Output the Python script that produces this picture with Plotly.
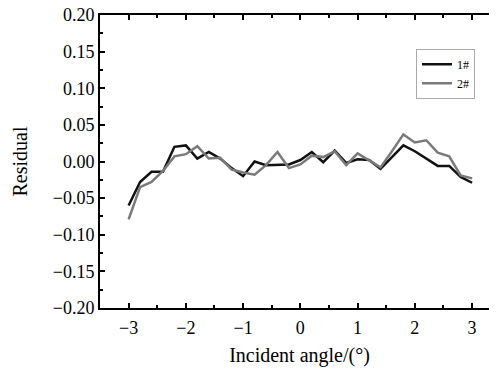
import plotly.graph_objects as go

angle = [-3.0, -2.8, -2.6, -2.4, -2.2, -2.0, -1.8, -1.6, -1.4, -1.2, -1.0,
         -0.8, -0.6, -0.4, -0.2, 0.0, 0.2, 0.4, 0.6, 0.8, 1.0,
         1.2, 1.4, 1.6, 1.8, 2.0, 2.2, 2.4, 2.6, 2.8, 3.0]

residual_1 = [-0.060, -0.028, -0.014, -0.014, 0.020, 0.022, 0.004, 0.013, 0.004, -0.009, -0.020,
              0.000, -0.005, -0.004, -0.004, 0.002, 0.013, -0.001, 0.015, -0.002, 0.003,
              0.002, -0.010, 0.006, 0.022, 0.014, 0.004, -0.006, -0.006, -0.021, -0.029]

residual_2 = [-0.079, -0.035, -0.028, -0.013, 0.007, 0.010, 0.021, 0.004, 0.005, -0.011, -0.015,
              -0.018, -0.005, 0.013, -0.009, -0.004, 0.008, 0.006, 0.014, -0.005, 0.011,
              0.002, -0.008, 0.014, 0.037, 0.026, 0.029, 0.012, 0.007, -0.019, -0.023]

series_names = ["1#", "2#"]
x_ticks = [-3, -2, -1, 0, 1, 2, 3]
y_ticks = [-0.20, -0.15, -0.10, -0.05, 0.00, 0.05, 0.10, 0.15, 0.20]
y_range = [-0.20, 0.20]

FONT = "Liberation Serif"

fig = go.Figure()
fig.add_trace(go.Scatter(x=angle, y=residual_1, mode="lines", name=series_names[0],
                         line=dict(color="#111111", width=2.5)))
fig.add_trace(go.Scatter(x=angle, y=residual_2, mode="lines", name=series_names[1],
                         line=dict(color="#7a7a7a", width=2.5)))

tick_common = dict(
    ticks="inside", ticklen=5, tickwidth=2, tickcolor="black",
    showgrid=False, zeroline=False,
    tickfont=dict(family=FONT, size=18, color="black"),
    ticklabeloverflow="allow",
    showline=True, linecolor="black", linewidth=2, mirror="ticks",
    automargin=False,
)

fig.update_xaxes(
    range=[-3.5, 3.47], tickvals=x_ticks,
    ticktext=[("\u2212" + str(abs(v))) if v < 0 else str(v) for v in x_ticks],
    minor=dict(ticks="inside", ticklen=3, tickwidth=2, tickcolor="black", dtick=0.5, tick0=0.5),
    ticklabelstandoff=2,
    title=dict(text="Incident angle/(°)", font=dict(family=FONT, size=20, color="black"), standoff=11),
    **tick_common,
)
fig.update_yaxes(
    range=y_range, tickvals=y_ticks, tickformat=".2f",
    minor=dict(ticks="inside", ticklen=3, tickwidth=2, tickcolor="black", dtick=0.025, tick0=0.025),
    title=dict(text="Residual", font=dict(family=FONT, size=20, color="black"), standoff=20),
    **tick_common,
)

fig.update_layout(
    width=491, height=363,
    margin=dict(l=92, r=0, t=7, b=63, autoexpand=False),
    paper_bgcolor="white", plot_bgcolor="white",
    font=dict(family=FONT, color="black"),
    legend=dict(x=0.792, y=0.885, xanchor="left", yanchor="top",
                bgcolor="white", bordercolor="#aaaaaa", borderwidth=1,
                font=dict(family=FONT, size=12, color="black"),
                itemwidth=30, tracegroupgap=0),
    showlegend=True,
)

fig.write_html("out.html")
